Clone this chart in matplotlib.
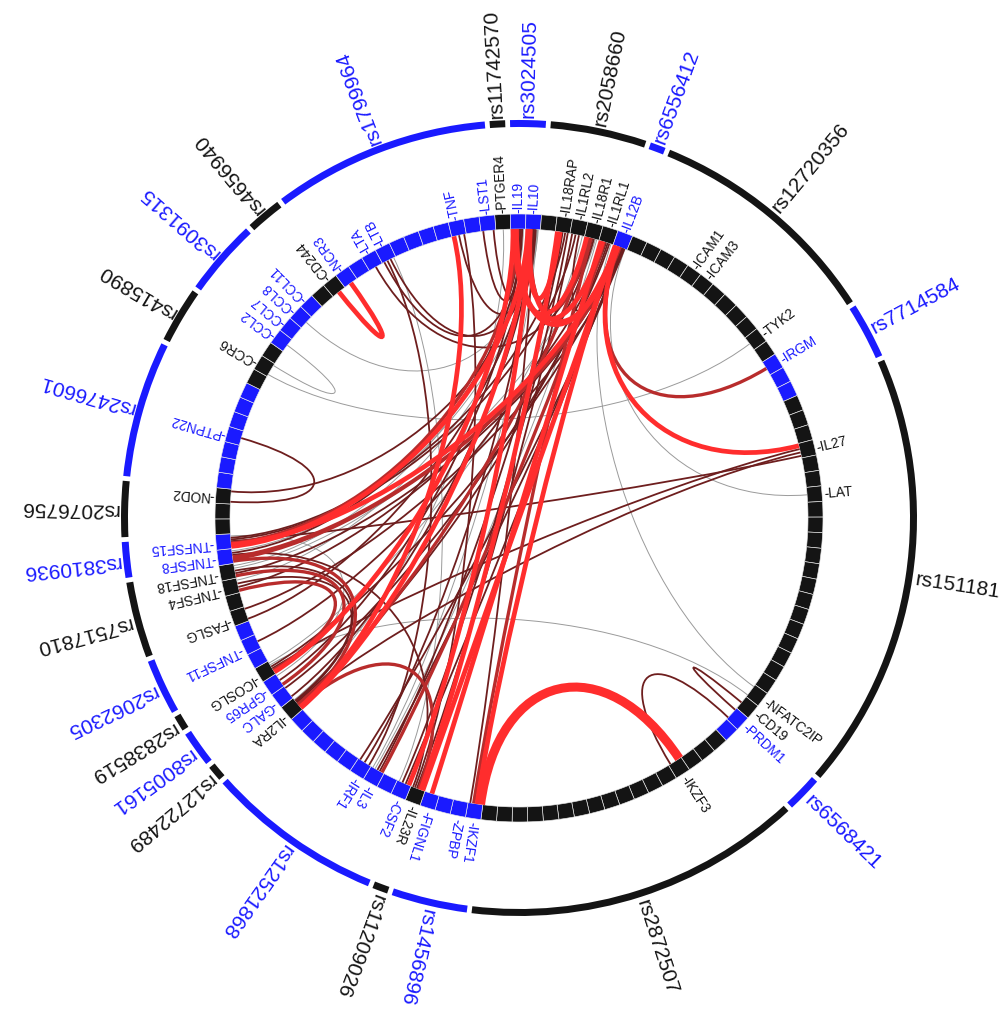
import numpy as np
import matplotlib
matplotlib.use("Agg")
import matplotlib.pyplot as plt
from matplotlib.patches import Wedge, PathPatch
from matplotlib.path import Path

plt.rcParams["font.family"] = ["Liberation Sans", "DejaVu Sans"]

# loci, clockwise from the top (rs11742570 / PTGER4)
SNPS = ["rs11742570", "rs3024505", "rs2058660", "rs6556412", "rs12720356", "rs7714584",
        "rs151181", "rs6568421", "rs2872507", "rs1456896", "rs11209026", "rs12521868",
        "rs12722489", "rs8005161", "rs2838519", "rs2062305", "rs7517810", "rs3810936",
        "rs2076756", "rs2476601", "rs415890", "rs3091315", "rs4656940", "rs1799964"]
SNP_BLUE = [0, 1, 0, 1, 0, 1, 0, 1, 0, 1, 0, 1, 0, 1, 0, 1, 0, 1, 0, 1, 0, 1, 0, 1]
SNP_NBLOCKS = [1, 2, 5, 1, 12, 3, 22, 2, 17, 4, 1, 9, 1, 2, 1, 3, 4, 2, 3, 7, 3, 4, 2, 11]

# genes: locus index and block slot inside the locus
GENES = ["PTGER4", "IL19", "IL10", "IL18RAP", "IL1RL2", "IL18R1", "IL1RL1", "IL12B",
         "ICAM1", "ICAM3", "TYK2", "IRGM", "IL27", "LAT", "NFATC2IP", "CD19", "PRDM1",
         "IKZF3", "IKZF1", "ZPBP", "FIGNL1", "IL23R", "CSF2", "IL3", "IRF1", "IL2RA",
         "GALC", "GPR65", "ICOSLG", "TNFSF11", "FASLG", "TNFSF4", "TNFSF18", "TNFSF8",
         "TNFSF15", "NOD2", "PTPN22", "CCR6", "CCL2", "CCL7", "CCL8", "CCL11", "CD244",
         "NCR3", "LTA", "LTB", "TNF", "LST1"]
GENE_SNP = [0, 1, 1, 2, 2, 2, 2, 3, 4, 4, 4, 5, 6, 6, 6, 6, 7, 8, 9, 9, 9, 10, 11, 11,
            11, 12, 13, 13, 14, 15, 16, 16, 16, 17, 17, 18, 19, 20, 21, 21, 21, 21, 22,
            23, 23, 23, 23, 23]
GENE_SLOT = [0, 0, 1, 1, 2, 3, 4, 0, 4, 5, 10, 0, 3, 6, 20, 21, 0, 3, 0, 1, 3, 0, 0, 2,
             3, 0, 0, 1, 0, 1, 0, 2, 3, 0, 1, 2, 3, 1, 0, 1, 2, 3, 1, 0, 2, 3, 8, 10]

# links: gene pair and score (1 weak ... 5 strong)
LINK_A = ["IKZF1", "IL12B", "IL12B", "IL10", "IL12B", "IL18RAP", "IL19", "IL10", "TNF",
          "IL10", "IL18R1", "IL27", "CD244", "IL18RAP", "IL12B", "IL1RL1", "IL10",
          "IL19",
          "IRGM", "IL23R", "TNFSF8", "TNFSF18", "TNFSF8", "IL3", "TNFSF15", "IL18R1",
          "TNFSF4", "IL12B", "IL10", "IKZF1",
          "PTPN22", "NOD2", "LTB", "LTB", "LTA", "LST1", "CD19", "PRDM1", "IL27", "IL27",
          "IL27", "FASLG", "TNFSF18", "TNFSF4", "IRF1", "IL3", "IL23R", "GPR65", "GALC",
          "TNF", "TNF", "TNFSF15", "TNFSF8", "IL2RA", "ICOSLG", "IKZF1", "TNFSF11",
          "TNFSF8", "TNFSF18", "TNFSF4", "CSF2", "IL3", "LTB", "IL1RL2",
          "LST1", "TNFSF15", "FASLG", "GALC", "IRF1", "CSF2",
          "TYK2", "CCL2", "PTGER4", "NFATC2IP", "NFATC2IP", "CCL8", "TNFSF8", "TNFSF18",
          "ICOSLG", "IL3", "LTB", "GPR65", "IL10", "LAT", "TNFSF18", "TNFSF4"]
LINK_B = ["IKZF3", "IKZF1", "IL23R", "TNFSF15", "TNFSF15", "IL23R", "ICOSLG", "IL2RA",
          "IL2RA", "IL12B", "IL19", "IL12B", "NCR3", "IL10", "IL19", "FIGNL1", "CSF2",
          "IL1RL1",
          "IL12B", "IL2RA", "IL2RA", "GPR65", "IL12B", "IL1RL1", "IL19", "IL2RA",
          "ICOSLG", "TNFSF8", "IL18R1", "IL18R1",
          "NOD2", "IL10", "IL19", "IRF1", "IL18R1", "IL19", "PRDM1", "IKZF3", "ICOSLG",
          "IL2RA", "TNFSF15", "IL10", "IL12B", "IL1RL1", "IL10", "IL18RAP", "IL1RL2",
          "IL19", "IL10", "IL10", "IL23R", "IL1RL2", "IL23R", "IL1RL1", "IL12B", "IL10",
          "IL18R1", "IL19", "IL2RA", "IL2RA", "IL12B", "IL12B", "IL10", "IL12B",
          "IL10", "IL18RAP", "IL12B", "IL1RL1", "IL12B", "IL18RAP",
          "CCR6", "CCR6", "IL2RA", "IL1RL1", "ICOSLG", "IL10", "IL10", "IL18R1",
          "IL1RL2", "IL18R1", "CSF2", "TNFSF15", "IL3", "IL12B", "IL19", "IL10"]
LINK_SCORE = [5, 4, 4, 4, 4, 4, 4, 4, 4, 4, 4, 4, 4, 4, 4, 4, 4, 4,
              3, 3, 3, 3, 3, 3, 3, 3, 3, 3, 3, 3,
              2, 2, 2, 2, 2, 2, 2, 2, 2, 2, 2, 2, 2, 2, 2, 2, 2, 2, 2, 2, 2, 2, 2, 2,
              2, 2, 2, 2, 2, 2, 2, 2, 2, 2, 2, 2, 2, 2, 2, 2,
              1, 1, 1, 1, 1, 1, 1, 1, 1, 1, 1, 1, 1, 1, 1, 1]

BLUE, BLACK = "#1a1aff", "#141414"
STYLE = {1: ("#9a9a9a", 0.7), 2: ("#6e1e1e", 1.3), 3: ("#b82c2c", 2.4),
         4: ("#ff2d2d", 3.4), 5: ("#ff2d2d", 6.5)}

NB = sum(SNP_NBLOCKS)
STEP = 360.0 / NB
START = -4.6
R_IN, R_OUT = 289, 304
R_SNP = 398

snp_first = np.concatenate([[0], np.cumsum(SNP_NBLOCKS)[:-1]])
block_blue = np.repeat(SNP_BLUE, SNP_NBLOCKS)
gene_block = {g: snp_first[s] + k for g, s, k in zip(GENES, GENE_SNP, GENE_SLOT)}


def pol(r, th):
    t = np.deg2rad(th)
    return np.array([r * np.sin(t), r * np.cos(t)])


fig = plt.figure(figsize=(10.07, 10.20), dpi=100)
ax = fig.add_axes([0, 0, 1, 1])
ax.set_xlim(-519, 488)
ax.set_ylim(-501, 519)
ax.axis("off")

# inner block ring
for i in range(NB):
    a = START + i * STEP
    ax.add_patch(Wedge((0, 0), R_OUT, 90 - a - STEP, 90 - a, width=R_OUT - R_IN,
                       fc=BLUE if block_blue[i] else BLACK, ec="#e8e8e8", lw=0.45))

# outer locus ring + labels
for s, name in enumerate(SNPS):
    a0 = START + snp_first[s] * STEP
    a1 = a0 + SNP_NBLOCKS[s] * STEP
    col = BLUE if SNP_BLUE[s] else BLACK
    ax.add_patch(Wedge((0, 0), R_SNP, 90 - a1 + 0.35, 90 - a0 - 0.35, width=7,
                       fc=col, ec="none"))
    mid = 0.5 * (a0 + a1)
    x, y = pol(R_SNP + 3, mid)
    ax.text(x, y, name, rotation=90 - mid, rotation_mode="anchor", ha="left",
            va="center", fontsize=15, color=col)

# gene labels
for g, s in zip(GENES, GENE_SNP):
    th = START + (gene_block[g] + 0.5) * STEP
    x, y = pol(R_OUT + 2, th)
    ax.text(x, y, "-" + g, rotation=90 - th, rotation_mode="anchor", ha="left",
            va="center", fontsize=9.8, color=BLUE if SNP_BLUE[s] else BLACK)

# spread link ends inside each block
ends = {}
for j, (a, b) in enumerate(zip(LINK_A, LINK_B)):
    ends.setdefault(gene_block[a], []).append((j, 0))
    ends.setdefault(gene_block[b], []).append((j, 1))
end_ang = {}
for blk, lst in ends.items():
    n = len(lst)
    for m, key in enumerate(lst):
        off = 0.0 if n == 1 else (m / (n - 1) - 0.5) * 0.7
        end_ang[key] = START + (blk + 0.5 + off) * STEP

order = np.argsort(LINK_SCORE, kind="stable")
for j in order:
    t0, t1 = end_ang[(j, 0)], end_ang[(j, 1)]
    span = abs((t1 - t0 + 180) % 360 - 180)
    k = 0.5 + 0.25 * np.exp(-span / 20.0)
    p0, p3 = pol(R_IN, t0), pol(R_IN, t1)
    path = Path([p0, k * p0, k * p3, p3],
                [Path.MOVETO, Path.CURVE4, Path.CURVE4, Path.CURVE4])
    col, lw = STYLE[LINK_SCORE[j]]
    ax.add_patch(PathPatch(path, fc="none", ec=col, lw=lw, capstyle="butt"))

fig.savefig("out.png", dpi=100)
